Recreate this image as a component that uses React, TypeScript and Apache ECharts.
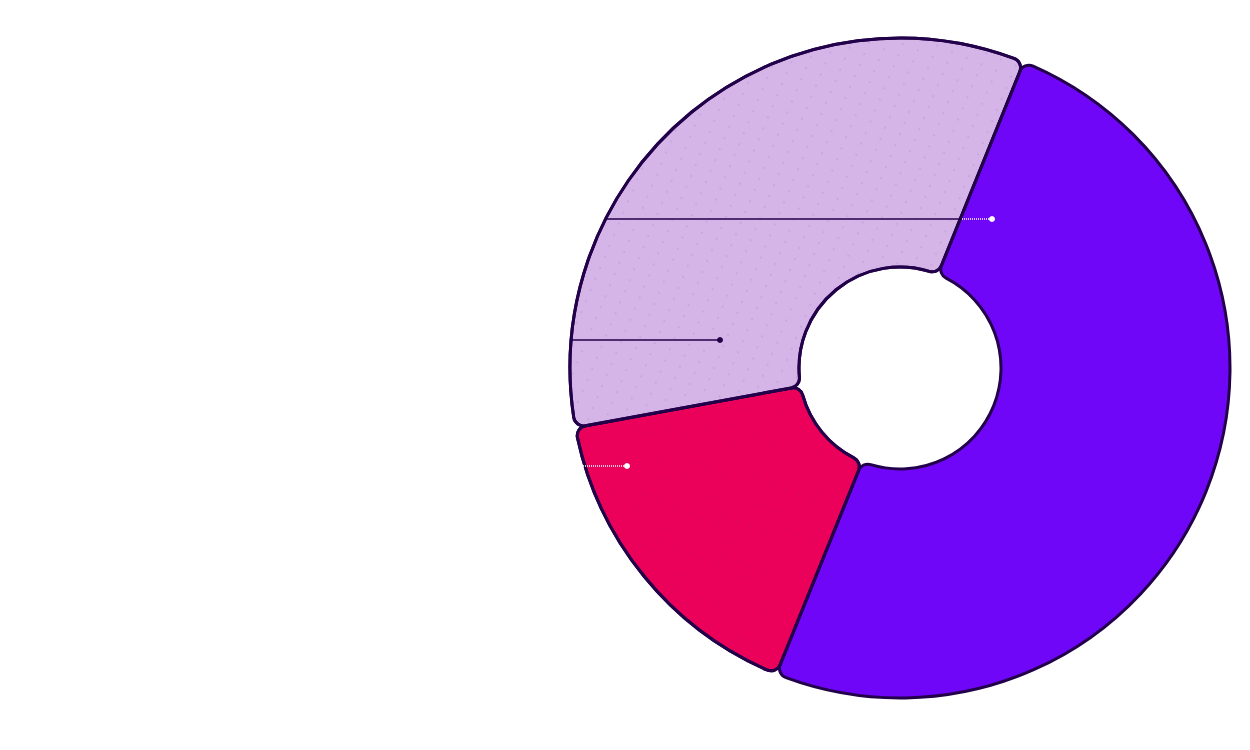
import React, { useEffect, useRef } from "react";
import * as echarts from "echarts";

const names = ["Purple", "Pink", "Lavender"];
const values = [50, 16, 34];
const colors = ["#6f06f8", "#eb005a", "#d5b5e8"];
const useDecal = [false, true, true];

export default function App() {
  const ref = useRef<HTMLDivElement>(null);
  useEffect(() => {
    const chart = echarts.init(ref.current!, null, { renderer: "svg" });
    const decal = {
      symbol: "circle",
      symbolSize: 1,
      color: "rgba(90,40,150,0.12)",
      dashArrayX: [2, 14],
      dashArrayY: [2, 10],
      rotation: 0.4,
    };
    const dark = "#22004a";
    chart.setOption({
      animation: false,
      backgroundColor: "#ffffff",
      series: [
        {
          type: "pie",
          center: [900, 368],
          radius: [101, 330],
          startAngle: 68,
          clockwise: true,
          label: { show: false },
          labelLine: { show: false },
          itemStyle: { borderColor: dark, borderWidth: 3, borderRadius: 10 },
          data: names.map((n, i) => ({
            name: n,
            value: values[i],
            itemStyle: { color: colors[i], decal: useDecal[i] ? decal : undefined },
          })),
        },
      ],
      graphic: [
        { type: "line", z: 100, shape: { x1: 605, y1: 219, x2: 962, y2: 219 }, style: { stroke: dark, lineWidth: 1.5 } },
        { type: "line", z: 100, shape: { x1: 962, y1: 219, x2: 992, y2: 219 }, style: { stroke: "#ffffff", lineWidth: 1.5, lineDash: [1, 1] } },
        { type: "circle", z: 100, shape: { cx: 992, cy: 219, r: 3 }, style: { fill: "#ffffff" } },
        { type: "line", z: 100, shape: { x1: 570, y1: 340, x2: 720, y2: 340 }, style: { stroke: dark, lineWidth: 1.5 } },
        { type: "circle", z: 100, shape: { cx: 720, cy: 340, r: 3 }, style: { fill: dark } },
        { type: "line", z: 100, shape: { x1: 583, y1: 466, x2: 627, y2: 466 }, style: { stroke: "#ffffff", lineWidth: 1.5, lineDash: [1, 1] } },
        { type: "circle", z: 100, shape: { cx: 627, cy: 466, r: 3 }, style: { fill: "#ffffff" } },
      ],
    });
    return () => chart.dispose();
  }, []);
  return (
    <div
      ref={ref}
      style={{ position: "fixed", left: 0, top: 0, width: 1250, height: 750, background: "#fff" }}
    />
  );
}
